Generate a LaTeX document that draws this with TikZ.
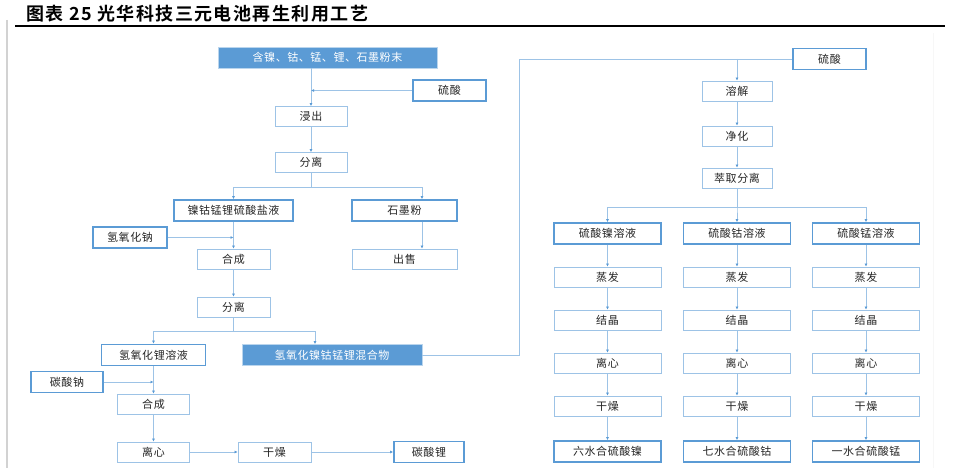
\documentclass[tikz,border=0pt]{standalone}
\usepackage{fontspec}
\setmainfont{Noto Sans CJK SC}
\newfontfamily\boxfont[LetterSpace=5]{Noto Sans CJK SC}
\newfontfamily\titlefont[LetterSpace=8]{Noto Sans CJK SC Bold}
\usetikzlibrary{arrows.meta}

\definecolor{boxblue}{HTML}{5B9BD5}
\definecolor{lineblue}{HTML}{9DC3E6}

\tikzset{
  stage/.style={draw=lineblue, line width=0.9pt, fill=white, minimum height=20pt,
    inner sep=0pt, font=\boxfont\fontsize{11}{13}\selectfont, text=black!85},
  keybox/.style={stage, draw=boxblue, line width=1.8pt, minimum height=21pt},
  mainbox/.style={stage, draw=lineblue!70, fill=boxblue, text=white, minimum height=21pt},
  link/.style={draw=lineblue, line width=0.9pt},
  flow/.style={link, -{Latex[length=3pt,width=3pt,color=boxblue]}},
}

\begin{document}
\begin{tikzpicture}[x=1pt,y=-1pt]
  \useasboundingbox (0,0) rectangle (956,468);
  % page frame and heading
  \draw[gray!35, line width=1.5pt] (7,20) -- (7,468);
  \draw[gray!6, line width=1pt] (933,33) -- (933,468);
  \node[anchor=west, inner sep=0pt, font=\titlefont\fontsize{18}{20}\selectfont] (title) at (26,14) {图表\ 25\ 光华科技三元电池再生利用工艺};
  \draw[black, line width=1.6pt] (15,26) -- (945,26);

  % leaching branch
  \node[mainbox, minimum width=219pt] (raw) at (327.5,57.5) {含镍、钴、锰、锂、石墨粉末};
  \node[keybox, minimum width=73pt] (acid1) at (449.5,90.5) {硫酸};
  \node[stage, minimum width=72pt] (leach) at (311,116.5) {浸出};
  \node[stage, minimum width=72pt] (sep1) at (311,162.5) {分离};
  \node[keybox, minimum width=119pt] (salt) at (233.5,210.5) {镍钴锰锂硫酸盐液};
  \node[keybox, minimum width=105pt] (graph) at (404.5,210.5) {石墨粉};
  \node[keybox, minimum width=74pt] (naoh) at (130,237.5) {氢氧化钠};
  \node[stage, minimum width=73pt] (syn1) at (233.5,259) {合成};
  \node[stage, minimum width=105pt] (sell) at (404.5,259) {出售};
  \node[stage, minimum width=73pt] (sep2) at (233.5,307) {分离};
  \node[keybox, minimum width=104pt] (lioh) at (153.5,355) {氢氧化锂溶液};
  \node[mainbox, minimum width=180pt] (mix) at (332,355) {氢氧化镍钴锰锂混合物};
  \node[keybox, minimum width=72pt] (soda) at (67,382) {碳酸钠};
  \node[stage, minimum width=72pt] (syn2) at (153.5,404) {合成};
  \node[stage, minimum width=72pt] (cent) at (153.5,452) {离心};
  \node[stage, minimum width=73pt] (dry) at (274.5,452) {干燥};
  \node[keybox, minimum width=70pt] (lico) at (429,452) {碳酸锂};

  \coordinate (split1) at (311,187);
  \coordinate (gtap) at (422,187);
  \coordinate (split2) at (233.5,331);
  \coordinate (mtap) at (315,331);
  \coordinate (bend) at (519,59);

  \draw[flow] (raw.south -| leach.north) -- (leach.north);
  \draw[flow] (acid1.west) -- (acid1.west -| leach.north);
  \draw[flow] (leach) -- (sep1);
  \draw[flow] (sep1.south) |- (split1 -| salt.north) -- (salt.north);
  \draw[flow] (sep1.south) |- (gtap) -- (gtap |- graph.north);
  \draw[flow] (gtap |- graph.south) -- (gtap |- sell.north);
  \draw[flow] (salt) -- (syn1);
  \draw[flow] (naoh.east) -- (naoh.east -| syn1.north);
  \draw[flow] (syn1) -- (sep2);
  \draw[flow] (sep2.south) |- (split2 -| lioh.north) -- (lioh.north);
  \draw[flow] (sep2.south) |- (mtap) -- (mtap |- mix.north);
  \draw[flow] (lioh) -- (syn2);
  \draw[flow] (soda.east) -- (soda.east -| syn2.north);
  \draw[flow] (syn2) -- (cent);
  \draw[flow] (cent) -- (dry);
  \draw[flow] (dry) -- (lico);

  % sulfate branch
  \node[keybox, minimum width=73pt] (acid2) at (829.5,59) {硫酸};
  \node[stage, minimum width=70pt] (diss) at (737,91) {溶解};
  \node[stage, minimum width=70pt] (pur) at (737,136) {净化};
  \node[stage, minimum width=70pt] (ext) at (737,178) {萃取分离};
  \coordinate (split3) at (737,207);

  \draw[link] (mix.east) -| (bend) -- (acid2.west);
  \draw[flow] (acid2.west -| diss.north) -- (diss.north);
  \draw[flow] (diss) -- (pur);
  \draw[flow] (pur) -- (ext);

  \foreach \c/\x/\sol/\prod in {ni/607.5/硫酸镍溶液/六水合硫酸镍,
      co/737/硫酸钴溶液/七水合硫酸钴, mn/866/硫酸锰溶液/一水合硫酸锰} {
    \node[keybox, minimum width=107pt] (\c-sol) at (\x,233.5) {\sol};
    \node[stage, minimum width=107pt] (\c-evap) at (\x,277) {蒸发};
    \node[stage, minimum width=107pt] (\c-cryst) at (\x,320) {结晶};
    \node[stage, minimum width=107pt] (\c-cent) at (\x,363) {离心};
    \node[stage, minimum width=107pt] (\c-dry) at (\x,406) {干燥};
    \node[keybox, minimum width=107pt] (\c-prod) at (\x,451.5) {\prod};
    \draw[flow] (ext.south) |- (split3 -| \c-sol.north) -- (\c-sol.north);
    \draw[flow] (\c-sol) -- (\c-evap);
    \draw[flow] (\c-evap) -- (\c-cryst);
    \draw[flow] (\c-cryst) -- (\c-cent);
    \draw[flow] (\c-cent) -- (\c-dry);
    \draw[flow] (\c-dry) -- (\c-prod);
  }
\end{tikzpicture}
\end{document}
